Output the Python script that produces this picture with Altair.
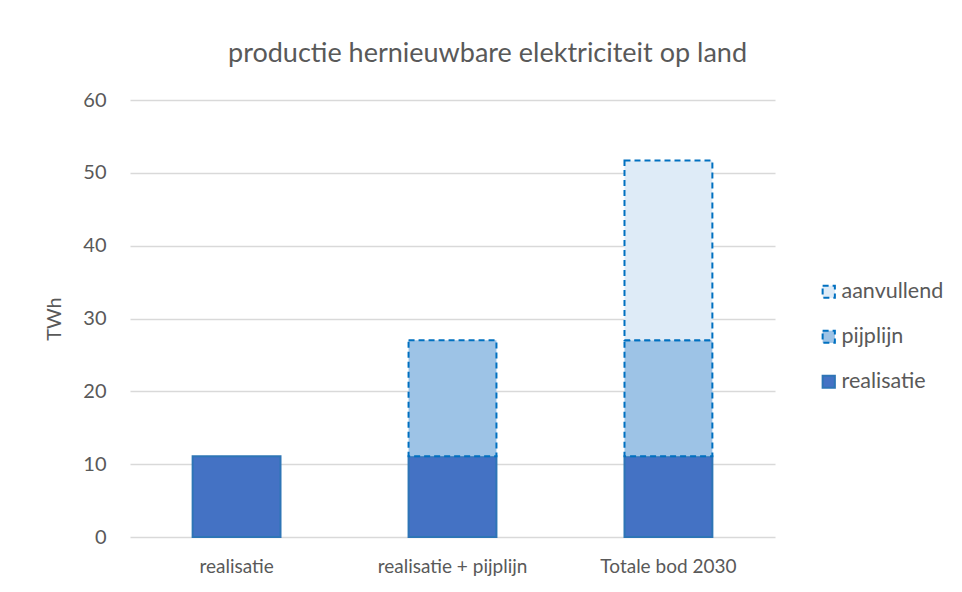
import altair as alt
import pandas as pd

categories = ["realisatie", "realisatie + pijplijn", "Totale bod 2030"]
series = ["aanvullend", "pijplijn", "realisatie"]
realisatie = [11.1, 11.1, 11.1]
pijplijn = [0, 15.9, 15.9]
aanvullend = [0, 0, 24.7]
stack_order = {"realisatie": 1, "pijplijn": 2, "aanvullend": 3}

rows = []
for i, c in enumerate(categories):
    for s, vals in (("realisatie", realisatie), ("pijplijn", pijplijn), ("aanvullend", aanvullend)):
        if vals[i] > 0:
            rows.append({"cat": c, "serie": s, "val": vals[i], "ord": stack_order[s]})
df = pd.DataFrame(rows)

font = "Lato"
grey = "#595959"

leg = alt.Legend(title=None, orient="none", legendX=688, legendY=181,
                 symbolType="square", symbolSize=150, labelFontSize=21.5,
                 labelColor=grey, labelFont=font, rowPadding=22, labelOffset=2,
                 symbolStrokeWidth=2)

chart = alt.Chart(df).mark_bar(strokeWidth=2).encode(
    x=alt.X("cat:N", sort=categories, title=None,
            scale=alt.Scale(paddingInner=0.593, paddingOuter=0.29),
            axis=alt.Axis(labelAngle=0, labelFontSize=19, labelColor=grey, labelFont=font,
                          labelPadding=20, ticks=False, domain=False)),
    y=alt.Y("val:Q", stack="zero", title="TWh",
            scale=alt.Scale(domain=[0, 60]),
            axis=alt.Axis(values=[0, 10, 20, 30, 40, 50, 60], labelFontSize=20, labelColor=grey,
                          labelFont=font, labelPadding=24, ticks=False, domain=False,
                          gridColor="#D9D9D9", gridWidth=1.3, titleFontSize=20, titleColor=grey,
                          titleFont=font, titleFontWeight="normal", titlePadding=18)),
    fill=alt.Fill("serie:N", scale=alt.Scale(domain=series, range=["#DEEBF7", "#9DC3E6", "#4472C4"]), legend=leg),
    stroke=alt.Stroke("serie:N", scale=alt.Scale(domain=series, range=["#0070C0", "#0070C0", "#2E75B6"]), legend=leg),
    strokeDash=alt.StrokeDash("serie:N", scale=alt.Scale(domain=series, range=[[6, 4], [6, 4], [1, 0]]), legend=leg),
    order=alt.Order("ord:Q"),
).properties(
    width=645, height=437,
    autosize=alt.AutoSizeParams(type="none"),
    padding={"left": 122, "top": 92, "right": 179, "bottom": 47},
    title=alt.TitleParams("productie hernieuwbare elektriciteit op land", fontSize=27,
                          font=font, color=grey, fontWeight="normal", anchor="middle",
                          dx=35, offset=22),
).configure_view(stroke=None)

chart.save("out.html", embed_options={"renderer": "svg", "actions": False})
